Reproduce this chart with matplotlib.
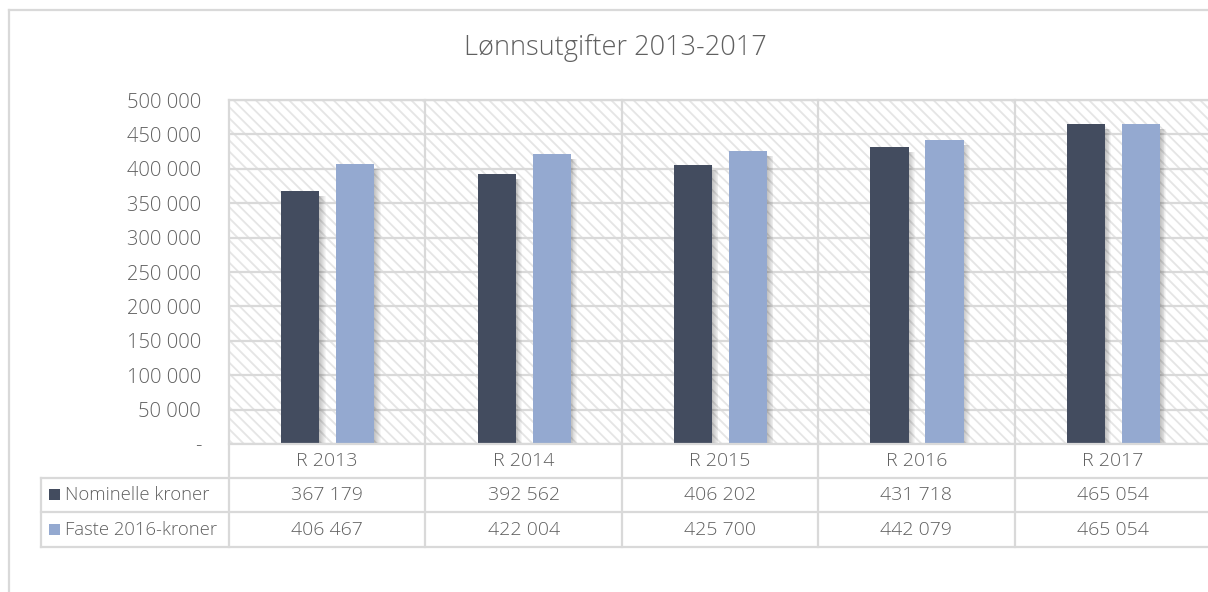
import matplotlib
matplotlib.use("Agg")
import matplotlib.pyplot as plt
from matplotlib.patches import Rectangle
from matplotlib.lines import Line2D

# ---- data ----
categories = ["R 2013", "R 2014", "R 2015", "R 2016", "R 2017"]
series_names = ["Nominelle kroner", "Faste 2016-kroner"]
nominelle = [367179, 392562, 406202, 431718, 465054]
faste = [406467, 422004, 425700, 442079, 465054]
yticks = [0, 50000, 100000, 150000, 200000, 250000, 300000, 350000, 400000, 450000, 500000]
title = "Lønnsutgifter 2013-2017"

# ---- style ----
DARK = "#434C5F"
LIGHT = "#94A9D0"
GRID = "#D9D9D9"
TXT = "#606060"
FONT = ["Open Sans", "DejaVu Sans"]
plt.rcParams["font.family"] = FONT
plt.rcParams["font.weight"] = "light"
plt.rcParams["hatch.linewidth"] = 1.3

W, H = 1208, 592
fig = plt.figure(figsize=(W / 100, H / 100), dpi=100)

def fx(x):
    return x / W

def fy(y):
    return 1 - y / H

def fmt(v):
    if v == 0:
        return "-"
    return f"{v:,}".replace(",", " ")

# plot area in pixels
L, R, T, B = 229, 1211, 100, 444
ax = fig.add_axes([fx(L), fy(B), fx(R - L), (B - T) / H])
ax.set_xlim(0, len(categories))
ax.set_ylim(0, 500000)
for s in ax.spines.values():
    s.set_visible(False)
ax.patch.set_alpha(0)

# hatched background
hatch = Rectangle((0, 0), 1, 1, transform=ax.transAxes, facecolor="white",
                  edgecolor="#E5E5E5", hatch="\\\\\\", linewidth=0, zorder=0)
ax.add_patch(hatch)

# horizontal gridlines
for t in yticks:
    ax.axhline(t, color=GRID, lw=1.6, zorder=1)

ax.set_yticks(yticks)
ax.set_yticklabels([fmt(t) for t in yticks])
ax.tick_params(axis="y", length=0, pad=20, labelsize=14.5, labelcolor=TXT)
ax.set_xticks([])

bw = 0.194
offs = [-0.137, 0.143]
px = len(categories) / (R - L)  # data units per pixel in x
py = 500000 / (B - T)
for vals, off, col in [(nominelle, offs[0], DARK), (faste, offs[1], LIGHT)]:
    for i, v in enumerate(vals):
        x0 = i + 0.5 + off - bw / 2
        # shadow
        for k in range(1, 8):
            ax.add_patch(Rectangle((x0 + k * px * 0.9, -3 * py), bw, v - 2 * py,
                                   facecolor="black", alpha=0.035, lw=0, zorder=2))
        ax.add_patch(Rectangle((x0, 0), bw, v, facecolor=col, lw=0, zorder=3))

# ---- frame / table lines ----
def hline(y, x0, x1):
    fig.add_artist(Line2D([fx(x0), fx(x1)], [fy(y), fy(y)], color=GRID, lw=1.6))

def vline(x, y0, y1):
    fig.add_artist(Line2D([fx(x), fx(x)], [fy(y0), fy(y1)], color=GRID, lw=1.6))

# outer border
hline(10, 9, 1220)
vline(9, 10, 600)

# plot top border & axis line
hline(T, L, 1220)
hline(B, L, 1220)
# table rows
hline(478, 41, 1220)
hline(512, 41, 1220)
hline(547, 41, 1220)
vline(41, 478, 547)
col_edges = [L + i * (R - L) / len(categories) for i in range(len(categories) + 1)]
for i, x in enumerate(col_edges[:-1]):
    vline(x, T, 547)

# table text
FS = 14
for i, c in enumerate(categories):
    cx = (col_edges[i] + col_edges[i + 1]) / 2
    fig.text(fx(cx), fy(461), c, ha="center", va="center", fontsize=FS, color=TXT)
    fig.text(fx(cx), fy(495), fmt(nominelle[i]), ha="center", va="center", fontsize=FS, color=TXT)
    fig.text(fx(cx), fy(530), fmt(faste[i]), ha="center", va="center", fontsize=FS, color=TXT)

for (name, col, y) in [(series_names[0], DARK, 495), (series_names[1], LIGHT, 530)]:
    fig.add_artist(Rectangle((fx(49), fy(y + 5)), fx(11), 11 / H, facecolor=col, lw=0))
    fig.text(fx(65), fy(y), name, ha="left", va="center", fontsize=13.3, color=TXT)

fig.text(fx(615), fy(48), title, ha="center", va="center", fontsize=19.5, color=TXT)

fig.savefig("out.png", dpi=100)
